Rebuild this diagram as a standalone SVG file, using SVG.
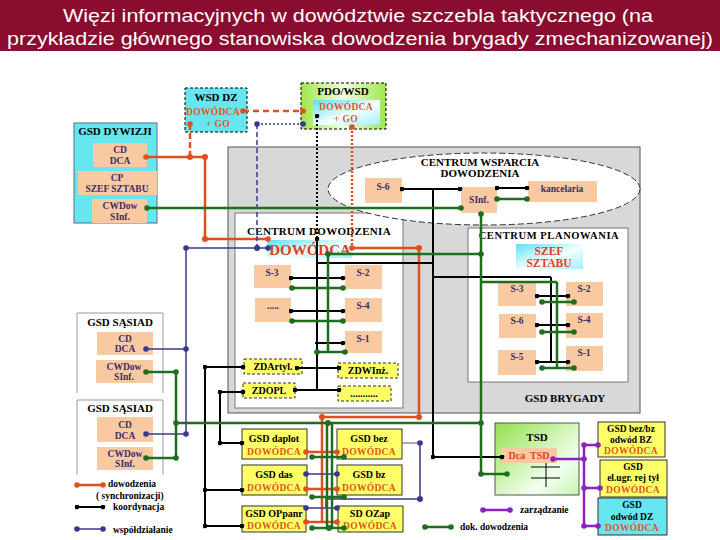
<svg xmlns="http://www.w3.org/2000/svg" width="720" height="540" viewBox="0 0 720 540">
<defs>
<style>
.t{font-family:"Liberation Serif","Times New Roman",serif;font-weight:bold;text-anchor:middle}
.ttl{font-size:11px;fill:#000}
.pe{fill:#f9c9a1}
.pt{font-size:9.5px;fill:#3b2d6b}
.cy{fill:#66e6ee}
.ye{fill:#ffff66;stroke:#333;stroke-width:1}
.yd{fill:#ffff66;stroke:#333;stroke-width:1;stroke-dasharray:3,2}
.dw{fill:#e0561e;font-size:9.5px;letter-spacing:0.3px}
.bt{font-size:10px;fill:#000}
.lg{font-size:9.5px;fill:#000;text-anchor:start}
.r{stroke:#e0501f;fill:none;stroke-width:2.5}
.b{stroke:#38388f;fill:none;stroke-width:1.5}
.k{stroke:#000;fill:none;stroke-width:2}
.g{stroke:#1f6e1f;fill:none;stroke-width:2.5}
.p{stroke:#8e22bf;fill:none;stroke-width:2.5}
.cr{fill:#e0501f}.cb{fill:#38388f}.ck{fill:#000}.cg{fill:#1f6e1f}.cp{fill:#8e22bf}
</style>
<marker id="mr" viewBox="0 0 6 6" refX="3" refY="3" markerWidth="6" markerHeight="6" markerUnits="userSpaceOnUse"><circle cx="3" cy="3" r="2.8" fill="#e0501f"/></marker>
<marker id="mb" viewBox="0 0 6 6" refX="3" refY="3" markerWidth="6" markerHeight="6" markerUnits="userSpaceOnUse"><circle cx="3" cy="3" r="2.8" fill="#38388f"/></marker>
<marker id="mk" viewBox="0 0 6 6" refX="3" refY="3" markerWidth="5" markerHeight="5" markerUnits="userSpaceOnUse"><circle cx="3" cy="3" r="2.8" fill="#000"/></marker>
<marker id="mg" viewBox="0 0 6 6" refX="3" refY="3" markerWidth="6" markerHeight="6" markerUnits="userSpaceOnUse"><circle cx="3" cy="3" r="2.8" fill="#1f6e1f"/></marker>
<marker id="mp" viewBox="0 0 6 6" refX="3" refY="3" markerWidth="6" markerHeight="6" markerUnits="userSpaceOnUse"><circle cx="3" cy="3" r="2.8" fill="#8e22bf"/></marker>
<linearGradient id="gcy" x1="0" y1="0" x2="1" y2="1"><stop offset="0" stop-color="#5fe0f2"/><stop offset="0.55" stop-color="#f4ffff"/><stop offset="1" stop-color="#9fefff"/></linearGradient>
<linearGradient id="gpdo" x1="0" y1="0" x2="1" y2="0"><stop offset="0" stop-color="#9ee64c"/><stop offset="0.5" stop-color="#f2ffe2"/><stop offset="1" stop-color="#9ee64c"/></linearGradient>
<linearGradient id="gtsd" x1="0" y1="0" x2="1" y2="1"><stop offset="0" stop-color="#92e04a"/><stop offset="0.7" stop-color="#f2fff0"/><stop offset="1" stop-color="#c8f4b0"/></linearGradient>
</defs>

<rect x="0" y="0" width="720" height="51" fill="#8a0c2f"/>
<text x="358" y="22" font-family="'Liberation Sans',Arial,sans-serif" font-size="19" fill="#fff" text-anchor="middle" textLength="590" lengthAdjust="spacingAndGlyphs">Więzi informacyjnych w dowództwie szczebla taktycznego  (na</text>
<text x="360" y="45" font-family="'Liberation Sans',Arial,sans-serif" font-size="19" fill="#fff" text-anchor="middle" textLength="706" lengthAdjust="spacingAndGlyphs">przykładzie głównego stanowiska dowodzenia brygady zmechanizowanej)</text>

<g id="gsd-brygady">
<rect x="228" y="147" width="412" height="266" fill="#d8d8d8" stroke="#555" stroke-width="1"/>
<text class="t ttl" x="565" y="402">GSD BRYGADY</text>
</g>

<g id="centrum-dowodzenia">
<rect x="235" y="213" width="168" height="195" fill="#fff" stroke="#777" stroke-width="1"/>
<text class="t ttl" x="319" y="235" letter-spacing="0.3">CENTRUM DOWODZENIA</text>
</g>

<g id="centrum-planowania">
<rect x="468" y="228" width="160" height="154" fill="#fff" stroke="#777" stroke-width="1"/>
<text class="t" x="549" y="239" font-size="10.5" letter-spacing="0.6">CENTRUM PLANOWANIA</text>
</g>

<g id="centrum-wsparcia">
<ellipse cx="484" cy="189" rx="156" ry="36" fill="#fff" stroke="#333" stroke-width="1" stroke-dasharray="6,3"/>
<text class="t ttl" x="480" y="166">CENTRUM WSPARCIA</text>
<text class="t ttl" x="480" y="177">DOWODZENIA</text>
</g>

<g id="cw-s6"><rect class="pe" x="365" y="178" width="37" height="25"/><text class="t pt" x="383" y="190">S-6</text></g>
<g id="cw-sinf"><rect class="pe" x="461" y="187" width="36" height="26"/><text class="t pt" x="479" y="203">SInf.</text></g>
<g id="cw-kancelaria"><rect class="pe" x="528" y="181" width="69" height="21"/><text class="t pt" x="562" y="192">kancelaria</text></g>

<g id="gsd-dywizji">
<rect x="74" y="123" width="83" height="100" class="cy" stroke="#5a6a8a" stroke-width="1"/>
<text class="t ttl" x="115" y="135">GSD DYWIZJI</text>
<rect class="pe" x="93" y="143" width="54" height="24"/><text class="t pt" x="120" y="153">CD</text><text class="t pt" x="120" y="164">DCA</text>
<rect class="pe" x="78" y="171" width="79" height="24"/><text class="t pt" x="117" y="181">CP</text><text class="t pt" x="117" y="192">SZEF SZTABU</text>
<rect class="pe" x="92" y="199" width="55" height="24"/><text class="t pt" x="120" y="209">CWDow</text><text class="t pt" x="120" y="220">SInf.</text>
</g>

<g id="wsd-dz">
<rect x="185" y="88" width="62" height="44" class="cy" stroke="#000" stroke-width="1" stroke-dasharray="3,2"/>
<text class="t ttl" x="216" y="101">WSD DZ</text>
<text class="t dw" x="213" y="115" font-size="8.5">DOWÓDCA</text>
<text class="t dw" x="218" y="127" font-size="8.5">+ GO</text>
</g>

<g id="pdo-wsd">
<rect x="301" y="83" width="85" height="46" fill="url(#gpdo)" stroke="#000" stroke-width="1" stroke-dasharray="3,2"/>
<text class="t ttl" x="343" y="95">PDO/WSD</text>
<rect x="313" y="100" width="67" height="25" fill="url(#gcy)"/>
<text class="t dw" x="346" y="110" font-size="8.5">DOWÓDCA</text>
<text class="t dw" x="346" y="122" font-size="8.5">+ GO</text>
</g>

<g id="cd-dowodca"><rect x="267" y="240" width="85" height="18" fill="url(#gcy)"/><text class="t" x="310" y="255" font-size="15" fill="#e0401e">DOWÓDCA</text></g>
<g id="cd-s3"><rect class="pe" x="254" y="265" width="37" height="23"/><text class="t pt" x="272" y="276">S-3</text></g>
<g id="cd-s2"><rect class="pe" x="345" y="265" width="37" height="24"/><text class="t pt" x="363" y="276">S-2</text></g>
<g id="cd-dots"><rect class="pe" x="255" y="298" width="36" height="24"/><text class="t pt" x="273" y="309">.....</text></g>
<g id="cd-s4"><rect class="pe" x="345" y="298" width="37" height="24"/><text class="t pt" x="363" y="309">S-4</text></g>
<g id="cd-s1"><rect class="pe" x="345" y="331" width="37" height="22"/><text class="t pt" x="363" y="342">S-1</text></g>
<g id="zd-artyl"><rect class="yd" x="244" y="359" width="58" height="15"/><text class="t bt" x="273" y="370">ZDArtyl.</text></g>
<g id="zd-winz"><rect class="yd" x="338" y="363" width="60" height="15"/><text class="t bt" x="368" y="374">ZDWInż.</text></g>
<g id="zd-opl"><rect class="yd" x="243" y="383" width="52" height="15"/><text class="t bt" x="269" y="394">ZDOPL</text></g>
<g id="zd-more"><rect class="yd" x="338" y="386" width="53" height="15"/><text class="t bt" x="364" y="397">...........</text></g>

<g id="cp-szef"><rect x="516" y="244" width="67" height="25" fill="url(#gcy)"/><text class="t" x="549" y="255" font-size="11.5" fill="#e0401e">SZEF</text><text class="t" x="549" y="267" font-size="11.5" fill="#e0401e">SZTABU</text></g>
<g id="cp-s3"><rect class="pe" x="498" y="282" width="38" height="24"/><text class="t pt" x="517" y="292">S-3</text></g>
<g id="cp-s2"><rect class="pe" x="566" y="282" width="37" height="24"/><text class="t pt" x="584" y="292">S-2</text></g>
<g id="cp-s6"><rect class="pe" x="499" y="314" width="37" height="24"/><text class="t pt" x="517" y="324">S-6</text></g>
<g id="cp-s4"><rect class="pe" x="566" y="313" width="37" height="25"/><text class="t pt" x="584" y="323">S-4</text></g>
<g id="cp-s5"><rect class="pe" x="498" y="350" width="38" height="25"/><text class="t pt" x="517" y="360">S-5</text></g>
<g id="cp-s1"><rect class="pe" x="566" y="346" width="37" height="25"/><text class="t pt" x="584" y="356">S-1</text></g>

<g id="gsd-sasiad-1">
<path d="M77,393 V313 H163 V393" fill="none" stroke="#999" stroke-width="1"/>
<text class="t ttl" x="120" y="326">GSD SĄSIAD</text>
<rect class="pe" x="97" y="332" width="56" height="23"/><text class="t pt" x="125" y="342">CD</text><text class="t pt" x="125" y="352">DCA</text>
<rect class="pe" x="96" y="360" width="57" height="23"/><text class="t pt" x="124" y="370">CWDow</text><text class="t pt" x="124" y="380">SInf.</text>
</g>
<g id="gsd-sasiad-2">
<path d="M77,475 V400 H163 V475" fill="none" stroke="#999" stroke-width="1"/>
<text class="t ttl" x="120" y="412">GSD SĄSIAD</text>
<rect class="pe" x="97" y="417" width="56" height="25"/><text class="t pt" x="125" y="428">CD</text><text class="t pt" x="125" y="439">DCA</text>
<rect class="pe" x="97" y="447" width="56" height="23"/><text class="t pt" x="125" y="457">CWDow</text><text class="t pt" x="125" y="467">SInf.</text>
</g>

<g id="gsd-daplot"><rect class="ye" x="242" y="429" width="65" height="30"/><text class="t bt" x="274" y="442">GSD daplot</text><text class="t dw" x="274" y="455">DOWÓDCA</text></g>
<g id="gsd-bez"><rect class="ye" x="337" y="429" width="65" height="30"/><text class="t bt" x="369" y="442">GSD bez</text><text class="t dw" x="369" y="455">DOWÓDCA</text></g>
<g id="gsd-das"><rect class="ye" x="242" y="465" width="65" height="30"/><text class="t bt" x="274" y="478">GSD das</text><text class="t dw" x="274" y="491">DOWÓDCA</text></g>
<g id="gsd-bz"><rect class="ye" x="337" y="465" width="65" height="30"/><text class="t bt" x="369" y="478">GSD bz</text><text class="t dw" x="369" y="491">DOWÓDCA</text></g>
<g id="gsd-oppanr"><rect class="ye" x="242" y="506" width="64" height="26"/><text class="t bt" x="274" y="517">GSD OPpanr</text><text class="t dw" x="274" y="529">DOWÓDCA</text></g>
<g id="sd-ozap"><rect class="ye" x="338" y="506" width="65" height="26"/><text class="t bt" x="370" y="517">SD OZap</text><text class="t dw" x="370" y="529">DOWÓDCA</text></g>

<g id="tsd">
<rect x="495" y="423" width="84" height="72" fill="url(#gtsd)" stroke="#555" stroke-width="1"/>
<text class="t ttl" x="537" y="441">TSD</text>
<rect class="pe" x="501" y="448" width="56" height="15"/>
<text class="t" x="529" y="459" font-size="10" fill="#e0401e" xml:space="preserve">Dca  TSD</text>
<path d="M531,467 H560 M531,478 H560 M546,463 V487" stroke="#000" stroke-width="1" fill="none"/>
</g>

<g id="gsd-bez-bz"><rect class="ye" x="598" y="422" width="67" height="35"/><text class="t pt" x="631" y="432" style="fill:#000">GSD bez/bz</text><text class="t pt" x="631" y="443" style="fill:#000">odwód BZ</text><text class="t dw" x="631" y="454">DOWÓDCA</text></g>
<g id="gsd-el-ugr"><rect class="ye" x="600" y="460" width="67" height="37"/><text class="t pt" x="633" y="470" style="fill:#000">GSD</text><text class="t pt" x="633" y="481" style="fill:#000">el.ugr. rej tył</text><text class="t dw" x="633" y="493">DOWÓDCA</text></g>
<g id="gsd-odwod-dz"><rect class="cy" x="598" y="498" width="69" height="37" stroke="#333" stroke-width="1"/><text class="t pt" x="632" y="508" style="fill:#000">GSD</text><text class="t pt" x="632" y="520" style="fill:#000">odwód DZ</text><text class="t dw" x="632" y="531">DOWÓDCA</text></g>

<g id="connectors">
<line class="r" x1="243" y1="111" x2="303" y2="111" stroke-width="2" stroke-dasharray="6,4" marker-start="url(#mr)" marker-end="url(#mr)"/>
<line class="r" x1="190" y1="124" x2="190" y2="157" stroke-width="3" stroke-dasharray="6,3" marker-start="url(#mr)"/>
<line class="r" x1="146" y1="157" x2="205" y2="157" stroke-width="2" marker-start="url(#mr)"/>
<line class="r" x1="205" y1="157" x2="205" y2="239" stroke-width="2"/>
<line class="r" x1="205" y1="239" x2="268" y2="239" stroke-width="3.5" marker-end="url(#mr)"/>
<circle class="cr" cx="190" cy="157" r="3"/><circle class="cr" cx="205" cy="157" r="3"/><circle class="cr" cx="205" cy="239" r="3"/>
<line class="r" x1="352" y1="127" x2="352" y2="248" stroke-dasharray="2,2" marker-start="url(#mr)" marker-end="url(#mr)"/>
<polyline class="r" points="352,248 419,248 419,417 322,417 322,522"/>
<circle class="cr" cx="419" cy="248" r="3"/><circle class="cr" cx="419" cy="417" r="3"/><circle class="cr" cx="322" cy="417" r="3"/>
<line class="r" x1="306" y1="452" x2="337" y2="452" marker-start="url(#mr)" marker-end="url(#mr)"/>
<line class="r" x1="306" y1="489" x2="337" y2="489" marker-start="url(#mr)" marker-end="url(#mr)"/>
<line class="r" x1="306" y1="522" x2="337" y2="522" marker-start="url(#mr)" marker-end="url(#mr)"/>
<line class="b" x1="257" y1="124" x2="303" y2="124" stroke-width="2" stroke-dasharray="2,2" marker-start="url(#mb)" marker-end="url(#mb)"/>
<line class="b" x1="257" y1="124" x2="257" y2="248" stroke-width="2" stroke-dasharray="5,3"/>
<line class="b" x1="186" y1="248" x2="268" y2="248" marker-start="url(#mb)" marker-end="url(#mb)"/>
<circle class="cb" cx="257" cy="248" r="3"/>
<line class="b" x1="186" y1="248" x2="186" y2="434"/>
<line class="b" x1="146" y1="349" x2="186" y2="349" marker-start="url(#mb)" marker-end="url(#mb)"/>
<line class="b" x1="146" y1="434" x2="186" y2="434" marker-start="url(#mb)" marker-end="url(#mb)"/>
<line class="b" x1="306" y1="474" x2="337" y2="474" marker-start="url(#mb)" marker-end="url(#mb)"/>
<line class="b" x1="306" y1="508" x2="337" y2="508" marker-start="url(#mb)" marker-end="url(#mb)"/>
<line x1="402" y1="443" x2="420" y2="443" stroke="#8a8ab0" stroke-width="1.5" marker-end="url(#mb)"/>
<polyline class="b" points="420,443 420,499 326,499 326,508"/>
<circle class="cb" cx="420" cy="499" r="3"/>
<line class="k" x1="317" y1="116" x2="317" y2="239" stroke-width="1.5" stroke-dasharray="2,2" marker-start="url(#mk)" marker-end="url(#mk)"/>
<line class="k" x1="317" y1="239" x2="317" y2="390" stroke-width="2.5"/>
<line class="k" x1="291" y1="278" x2="343" y2="278" marker-start="url(#mk)" marker-end="url(#mk)"/>
<line class="k" x1="291" y1="311" x2="343" y2="311" marker-start="url(#mk)" marker-end="url(#mk)"/>
<line class="k" x1="315" y1="343" x2="343" y2="343" marker-end="url(#mk)"/>
<line class="k" x1="297" y1="368" x2="339" y2="368" stroke-width="2.5" marker-start="url(#mk)" marker-end="url(#mk)"/>
<line class="k" x1="295" y1="390" x2="339" y2="390" stroke-width="2.5" marker-start="url(#mk)" marker-end="url(#mk)"/>
<line class="k" x1="317" y1="263" x2="433" y2="263" stroke-width="3"/>
<line class="k" x1="402" y1="189" x2="460" y2="189" marker-start="url(#mk)" marker-end="url(#mk)"/>
<line class="k" x1="497" y1="188" x2="527" y2="188" marker-start="url(#mk)" marker-end="url(#mk)"/>
<line class="k" x1="433" y1="189" x2="433" y2="457" stroke-width="2.5"/>
<line class="k" x1="433" y1="277" x2="551" y2="277" stroke-width="3.5"/>
<line class="k" x1="551" y1="277" x2="551" y2="362" stroke-width="2.5"/>
<line class="k" x1="537" y1="296" x2="568" y2="296" marker-start="url(#mk)" marker-end="url(#mk)"/>
<line class="k" x1="537" y1="325" x2="568" y2="325" stroke-width="3" marker-start="url(#mk)" marker-end="url(#mk)"/>
<line class="k" x1="537" y1="362" x2="568" y2="362" marker-start="url(#mk)" marker-end="url(#mk)"/>
<line class="k" x1="433" y1="457" x2="502" y2="457" stroke-width="1.5" marker-start="url(#mk)" marker-end="url(#mk)"/>
<line class="k" x1="205" y1="367" x2="243" y2="367" marker-start="url(#mk)" marker-end="url(#mk)"/>
<line class="k" x1="205" y1="367" x2="205" y2="526" stroke-width="1.5"/>
<line class="k" x1="220" y1="392" x2="243" y2="392" marker-start="url(#mk)" marker-end="url(#mk)"/>
<line class="k" x1="220" y1="392" x2="220" y2="443" stroke-width="1.5"/>
<line class="k" x1="220" y1="443" x2="242" y2="443" marker-start="url(#mk)" marker-end="url(#mk)"/>
<line class="k" x1="205" y1="490" x2="242" y2="490" marker-start="url(#mk)" marker-end="url(#mk)"/>
<line class="k" x1="205" y1="526" x2="242" y2="526" marker-start="url(#mk)" marker-end="url(#mk)"/>
<line class="g" x1="147" y1="208" x2="461" y2="208" marker-start="url(#mg)" marker-end="url(#mg)"/>
<line class="g" x1="481" y1="214" x2="481" y2="474" marker-start="url(#mg)"/>
<line class="g" x1="497" y1="199" x2="527" y2="199" stroke-width="2" marker-start="url(#mg)" marker-end="url(#mg)"/>
<line class="g" x1="328" y1="254" x2="481" y2="254" marker-start="url(#mg)" marker-end="url(#mg)"/>
<line class="g" x1="328" y1="254" x2="328" y2="352"/>
<line class="g" x1="292" y1="288" x2="343" y2="288" marker-start="url(#mg)" marker-end="url(#mg)"/>
<line class="g" x1="292" y1="321" x2="343" y2="321" marker-start="url(#mg)" marker-end="url(#mg)"/>
<line class="g" x1="317" y1="352" x2="345" y2="352" marker-start="url(#mg)" marker-end="url(#mg)"/>
<line class="g" x1="481" y1="282" x2="557" y2="282" stroke-width="2"/>
<line class="g" x1="557" y1="282" x2="557" y2="368"/>
<line class="g" x1="542" y1="302" x2="574" y2="302" marker-start="url(#mg)" marker-end="url(#mg)"/>
<line class="g" x1="542" y1="332" x2="574" y2="332" marker-start="url(#mg)" marker-end="url(#mg)"/>
<line class="g" x1="542" y1="368" x2="574" y2="368" marker-start="url(#mg)" marker-end="url(#mg)"/>
<line class="g" x1="146" y1="372" x2="176" y2="372" marker-start="url(#mg)" marker-end="url(#mg)"/>
<line class="g" x1="146" y1="458" x2="176" y2="458" marker-start="url(#mg)" marker-end="url(#mg)"/>
<line class="g" x1="176" y1="372" x2="176" y2="458"/>
<line class="g" x1="176" y1="423" x2="481" y2="423" stroke-width="1" marker-start="url(#mg)" marker-end="url(#mg)"/>
<circle class="cg" cx="328" cy="423" r="3"/>
<line class="g" x1="327" y1="423" x2="327" y2="528"/>
<line class="g" x1="332" y1="423" x2="332" y2="528" stroke-width="2"/>
<line class="g" x1="312" y1="457" x2="344" y2="457" marker-start="url(#mg)" marker-end="url(#mg)"/>
<line class="g" x1="312" y1="497" x2="344" y2="497" marker-start="url(#mg)" marker-end="url(#mg)"/>
<line class="g" x1="312" y1="528" x2="344" y2="528" marker-start="url(#mg)" marker-end="url(#mg)"/>
<circle class="cg" cx="329" cy="528" r="3"/>
<line class="g" x1="481" y1="474" x2="507" y2="474" marker-start="url(#mg)" marker-end="url(#mg)"/>
<line class="p" x1="553" y1="459" x2="584" y2="459" marker-start="url(#mp)" marker-end="url(#mp)"/>
<line class="p" x1="584" y1="445" x2="584" y2="526"/>
<line class="p" x1="584" y1="445" x2="598" y2="445" marker-start="url(#mp)" marker-end="url(#mp)"/>
<line class="p" x1="584" y1="488" x2="600" y2="488" marker-start="url(#mp)" marker-end="url(#mp)"/>
<line class="p" x1="584" y1="526" x2="598" y2="526" marker-start="url(#mp)" marker-end="url(#mp)"/>
</g>

<g id="legend">
<line class="r" x1="77" y1="485" x2="103" y2="485" marker-start="url(#mr)" marker-end="url(#mr)"/>
<text class="t lg" x="108" y="487">dowodzenia</text>
<text class="t lg" x="96" y="499">( synchronizacji)</text>
<line class="k" x1="77" y1="507" x2="103" y2="507" stroke-width="2.5" marker-start="url(#mk)" marker-end="url(#mk)"/>
<text class="t lg" x="113" y="510">koordynacja</text>
<line class="b" x1="77" y1="529" x2="103" y2="529" stroke-width="2.5" marker-start="url(#mb)" marker-end="url(#mb)"/>
<text class="t lg" x="113" y="533">współdziałanie</text>
<line class="p" x1="483" y1="510" x2="510" y2="510" marker-start="url(#mp)" marker-end="url(#mp)"/>
<text class="t lg" x="520" y="513">zarządzanie</text>
<line class="g" x1="425" y1="527" x2="451" y2="527" marker-start="url(#mg)" marker-end="url(#mg)"/>
<text class="t lg" x="460" y="530">dok. dowodzenia</text>
</g>
</svg>
